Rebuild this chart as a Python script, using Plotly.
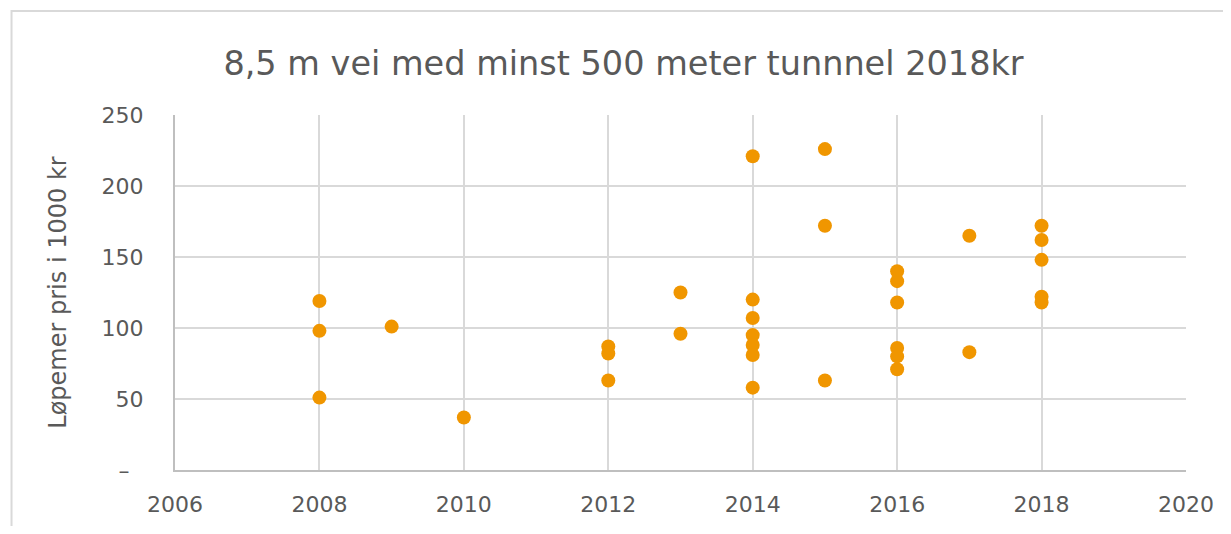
import plotly.graph_objects as go

years = [2008, 2008, 2008, 2009, 2010,
         2012, 2012, 2012, 2013, 2013,
         2014, 2014, 2014, 2014, 2014, 2014, 2014,
         2015, 2015, 2015,
         2016, 2016, 2016, 2016, 2016, 2016,
         2017, 2017,
         2018, 2018, 2018, 2018, 2018]
prices = [119, 98, 51, 101, 37,
          87, 82, 63, 125, 96,
          221, 120, 107, 95, 88, 81, 58,
          226, 172, 63,
          140, 133, 118, 86, 80, 71,
          165, 83,
          172, 162, 148, 122, 118]

x_ticks = [2006, 2008, 2010, 2012, 2014, 2016, 2018, 2020]
y_ticks = [0, 50, 100, 150, 200, 250]
y_ticktext = ["–\u00a0\u00a0", "50", "100", "150", "200", "250"]

title_text = "8,5 m vei med minst 500 meter tunnnel 2018kr"
y_title = "Løpemer pris i 1000 kr"

font_family = "DejaVu Sans"
text_color = "#595959"
grid_color = "#d9d9d9"

fig = go.Figure()
fig.add_trace(go.Scatter(
    x=years, y=prices, mode="markers",
    marker=dict(size=14, color="#F09600", line=dict(width=0)),
    showlegend=False,
))

fig.update_layout(
    width=1215, height=518,
    margin=dict(l=167, r=37, t=107, b=56, autoexpand=False),
    paper_bgcolor="white", plot_bgcolor="white",
    font=dict(family=font_family, color=text_color, size=22),
    title=dict(text=title_text, x=0.5066, xanchor="center", y=0.894, yanchor="middle",
               font=dict(family=font_family, size=33.5, color=text_color)),
    xaxis=dict(range=[2006, 2020], tickvals=x_ticks, ticktext=[str(t) for t in x_ticks],
               showgrid=True, gridcolor=grid_color, gridwidth=2,
               showline=True, linecolor="#bfbfbf", linewidth=2, automargin=False,
               zeroline=False, ticks="", ticklen=0, ticklabelstandoff=14,
               tickfont=dict(size=22, color=text_color)),
    yaxis=dict(range=[0, 250], tickvals=y_ticks, ticktext=y_ticktext,
               showgrid=True, gridcolor=grid_color, gridwidth=2,
               showline=True, linecolor="#bfbfbf", linewidth=2, automargin=False,
               zeroline=False, ticks="", ticklen=0, ticklabelstandoff=25,
               tickfont=dict(size=22, color=text_color),
               title=dict(text=y_title, font=dict(size=24, color=text_color), standoff=28)),
)

fig.add_shape(type="rect", xref="paper", yref="paper",
              x0=-0.1617, x1=1.2, y0=-0.4, y1=1.293,
              line=dict(color="#d9d9d9", width=2), fillcolor="rgba(0,0,0,0)", layer="below")

fig.write_html("out.html")
